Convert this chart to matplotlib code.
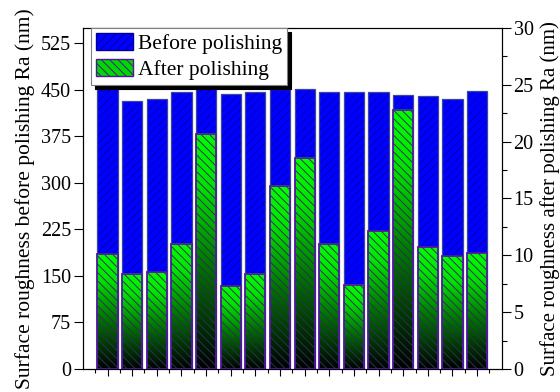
import numpy as np
import matplotlib
matplotlib.use('Agg')
import matplotlib.pyplot as plt
from matplotlib.patches import Patch
from matplotlib.colors import LinearSegmentedColormap

plt.rcParams['font.family'] = 'Liberation Serif'
plt.rcParams['hatch.linewidth'] = 0.7

samples = np.arange(1, 17)
ra_before = [453, 432, 436, 447, 454, 444, 447, 452, 451, 446, 447, 446, 442, 441, 436, 449]
ra_after = [10.1, 8.4, 8.5, 11.0, 20.7, 7.3, 8.4, 16.1, 18.6, 11.0, 7.4, 12.1, 22.8, 10.7, 9.9, 10.2]

w = 0.82
green_map = LinearSegmentedColormap.from_list(
    'gruen', [(0, '#000000'), (0.45, '#007800'), (0.78, '#00e400'), (1, '#00ff00')])

fig = plt.figure(figsize=(5.6, 3.92), dpi=100)
ax = fig.add_axes([0.148, 0.0587, 0.748, 0.8699])
ax2 = ax.twinx()

# vor dem Polieren (linke Achse)
ax.bar(samples, ra_before, w, color='#0000ff', edgecolor='#0000b0',
       hatch='////', linewidth=0, zorder=2)
ax.bar(samples, ra_before, w, facecolor='none', edgecolor='#3a46a0',
       linewidth=0.9, zorder=3)

# nach dem Polieren (rechte Achse), Farbverlauf pro Balken
grad = np.linspace(0, 1, 256).reshape(-1, 1)
for xi, v in zip(samples, ra_after):
    ax2.imshow(grad, extent=[xi - w / 2, xi + w / 2, 0, v], origin='lower',
               aspect='auto', cmap=green_map, zorder=2)
ax2.bar(samples, ra_after, w, facecolor='none', edgecolor='#2e2e5e',
        hatch='\\\\\\\\', linewidth=0, zorder=3)
ax2.bar(samples, ra_after, w, facecolor='none', edgecolor='#5018a0',
        linewidth=1.3, zorder=4)

ax.set_xlim(0, 17)
ax2.set_xlim(0, 17)
ax.set_ylim(0, 550)
ax2.set_ylim(0, 30)

ax.set_yticks(np.arange(0, 526, 75))
ax2.set_yticks(np.arange(0, 31, 5))
ax2.set_yticks(np.arange(2.5, 30, 5), minor=True)
ax.set_xticks(samples)
ax.set_xticks(np.arange(0.5, 17, 1), minor=True)
ax.set_xticklabels([])

ax.tick_params(axis='y', direction='out', length=6.5, width=0.8, labelsize=14.5, pad=2)
ax.tick_params(axis='x', which='major', direction='out', length=5, width=0.8)
ax.tick_params(axis='x', which='minor', direction='out', length=3, width=0.8)
ax2.tick_params(axis='y', which='major', direction='out', length=6.5, width=0.8,
                labelsize=14.5, pad=2)
ax2.tick_params(axis='y', which='minor', direction='out', length=3.5, width=0.8)

ax.set_ylabel('Surface roughness before polishing Ra (nm)', fontsize=15.5)
ax.yaxis.set_label_coords(-0.115, 0.5)
ax2.set_ylabel('Surface roughness after polishing Ra (nm)', fontsize=15)
ax2.yaxis.set_label_coords(1.092, 0.5)

handles = [Patch(facecolor='#0000ff', edgecolor='#0000a0', hatch='////'),
           Patch(facecolor='#00d800', edgecolor='#4a1898', hatch='\\\\\\\\')]
leg = ax2.legend(handles, ['Before polishing', 'After polishing'],
                 loc='upper left', bbox_to_anchor=(0.019, 1.0), borderaxespad=0,
                 fontsize=15.5, fancybox=False, framealpha=1, edgecolor='#808080',
                 shadow={'color': 'black', 'alpha': 1, 'ox': 3, 'oy': -3},
                 handlelength=1.75, handleheight=0.85, handletextpad=0.23,
                 borderpad=0.22, labelspacing=0.25)
leg.get_frame().set_linewidth(0.8)
leg.set_zorder(10)

fig.savefig('out.png', dpi=100)
